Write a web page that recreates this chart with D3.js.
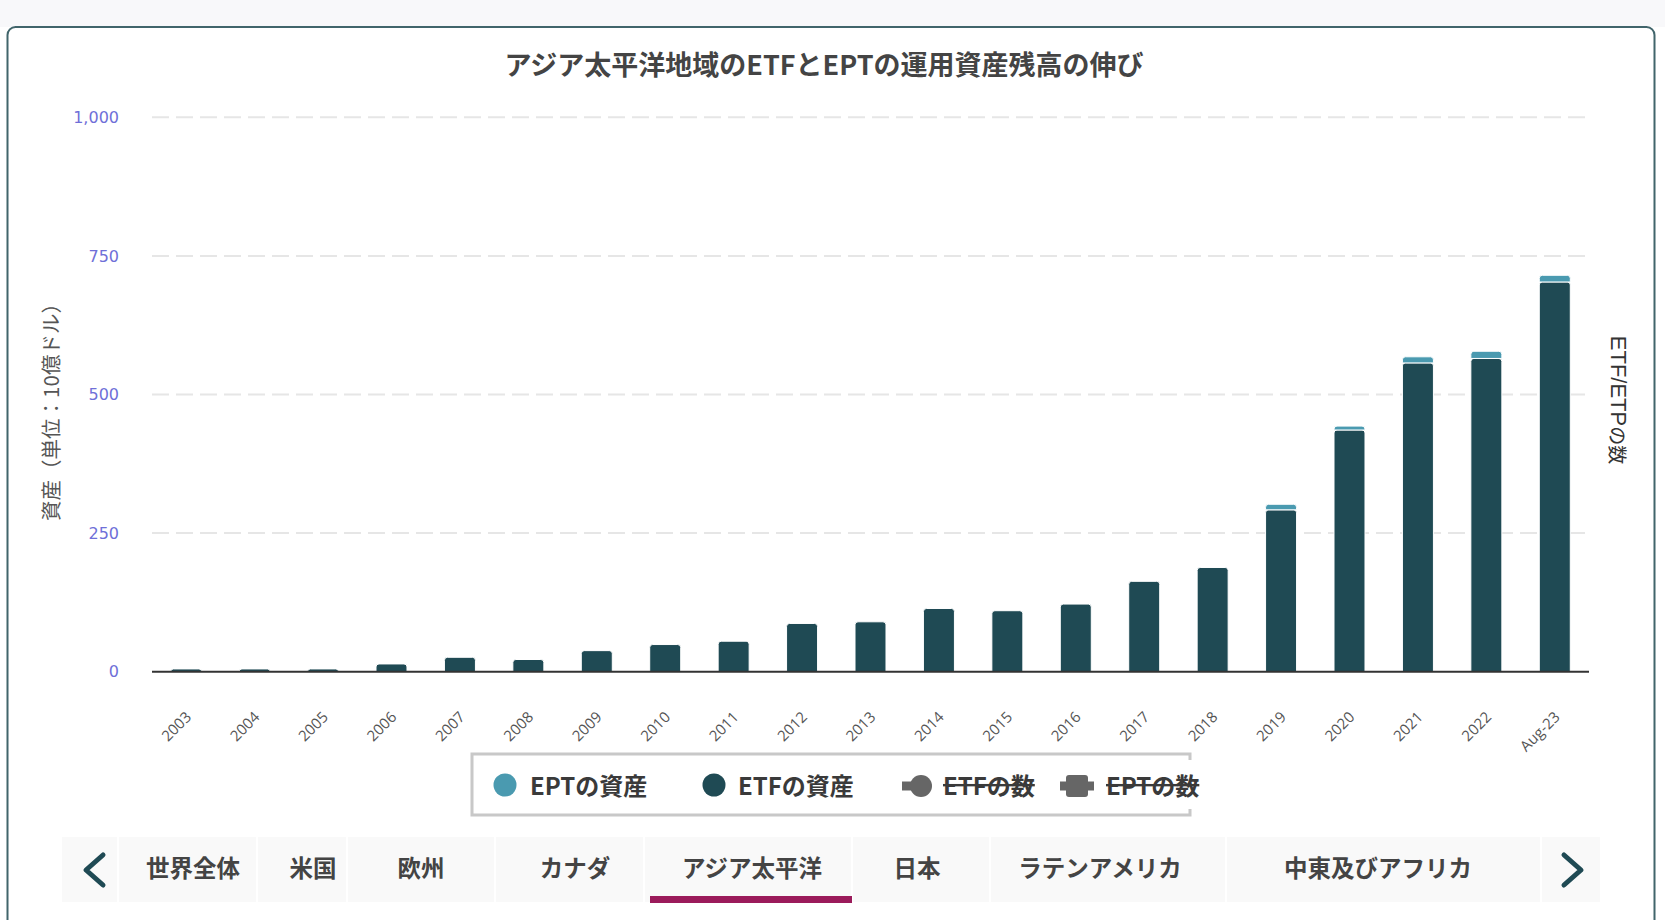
<!DOCTYPE html>
<html>
<head>
<meta charset="utf-8">
<script src="https://cdn.jsdelivr.net/npm/d3@7/dist/d3.min.js"></script>
<style>
  body { margin: 0; background: #fff; }
  svg { display: block; font-family: "Noto Sans CJK JP", "Noto Sans", sans-serif; }
</style>
</head>
<body>
<svg id="canvas" width="1665" height="920"></svg>
<script>
// data
let categories = ['2003', '2004', '2005', '2006', '2007', '2008', '2009', '2010', '2011', '2012',
                  '2013', '2014', '2015', '2016', '2017', '2018', '2019', '2020', '2021', '2022', 'Aug-23']
let etfAssets = [5, 5, 5, 14, 26, 22, 38, 49, 55, 87, 90, 114, 110, 122, 163, 188, 292, 436, 557, 565, 703]
let eptAssets = [0, 0, 0, 0, 0, 0, 0, 0, 0, 0, 0, 0, 0, 0, 0, 0, 10, 7, 11, 13, 12]
let yTicks = [0, 250, 500, 750, 1000]
let legendNames = ['EPTの資産', 'ETFの資産', 'ETFの数', 'EPTの数']
let tabNames = ['世界全体', '米国', '欧州', 'カナダ', 'アジア太平洋', '日本', 'ラテンアメリカ', '中東及びアフリカ']

let etfColor = '#1f4a54'
let eptColor = '#4a9ab0'

let svg = d3.select('#canvas')

// page frame
svg.append('rect').attr('x', 0).attr('y', 0).attr('width', 1665).attr('height', 27).attr('fill', '#f8f8fa')
svg.append('rect')
    .attr('x', 7.5).attr('y', 27).attr('width', 1647).attr('height', 930)
    .attr('rx', 8)
    .attr('fill', '#fff')
    .attr('stroke', '#41656b')
    .attr('stroke-width', 2)

svg.append('text')
    .attr('x', 824).attr('y', 63)
    .attr('text-anchor', 'middle')
    .attr('dominant-baseline', 'central')
    .attr('font-size', 27)
    .attr('font-weight', 'bold')
    .attr('fill', '#444')
    .text('アジア太平洋地域のETFとEPTの運用資産残高の伸び')

let left = 152
let right = 1589

let xScale = d3.scaleBand()
    .domain(categories)
    .range([left, right])
    .paddingInner(0.547)
    .paddingOuter(0.2735)

let yScale = d3.scaleLinear()
    .domain([0, 1000])
    .range([671.7, 117.3])

// grid
svg.append('g')
    .selectAll('line')
    .data(yTicks.filter((d) => d > 0))
    .enter()
    .append('line')
    .attr('x1', left).attr('x2', right)
    .attr('y1', (d) => yScale(d)).attr('y2', (d) => yScale(d))
    .attr('stroke', '#e6e6e6')
    .attr('stroke-width', 2)
    .attr('stroke-dasharray', '17,7')

let yAxis = d3.axisLeft(yScale)
    .tickValues(yTicks)
    .tickSize(0)
    .tickPadding(0)
    .tickFormat(d3.format(','))

let yAxisGroup = svg.append('g')
    .attr('transform', 'translate(119,0)')
    .call(yAxis)
yAxisGroup.select('.domain').remove()
yAxisGroup.selectAll('text')
    .attr('font-family', '"DejaVu Sans", sans-serif')
    .attr('font-size', 16)
    .attr('fill', '#6f6fd8')

svg.append('text')
    .attr('transform', 'translate(50,407) rotate(-90)')
    .attr('text-anchor', 'middle')
    .attr('dominant-baseline', 'central')
    .attr('font-size', 20.5)
    .attr('fill', '#555')
    .text('資産（単位：10億ドル）')

let rightTitle = svg.append('text')
    .attr('transform', 'translate(1619,400) rotate(90)')
    .attr('text-anchor', 'middle')
    .attr('dominant-baseline', 'central')
    .attr('fill', '#333')
rightTitle.append('tspan').attr('font-family', '"Liberation Sans", sans-serif').attr('font-size', 22).text('ETF/ETP')
rightTitle.append('tspan').attr('font-size', 19).text('の数')

// stacked bars
let rows = categories.map((c, i) => ({ category: c, etf: etfAssets[i], ept: eptAssets[i] }))
let stack = d3.stack().keys(['etf', 'ept'])(rows)
let colors = { etf: etfColor, ept: eptColor }

let topPath = (x, y, w, h, r) => {
    r = Math.min(r, h, w / 2)
    return 'M' + x + ',' + (y + h) +
        'V' + (y + r) +
        'Q' + x + ',' + y + ' ' + (x + r) + ',' + y +
        'H' + (x + w - r) +
        'Q' + (x + w) + ',' + y + ' ' + (x + w) + ',' + (y + r) +
        'V' + (y + h) + 'Z'
}

stack.forEach((layer) => {
    svg.append('g')
        .selectAll('path')
        .data(layer.filter((d) => d[1] - d[0] > 0))
        .enter()
        .append('path')
        .attr('d', (d) => {
            let x = xScale(d.data.category)
            let y = yScale(d[1])
            let h = yScale(d[0]) - yScale(d[1])
            return topPath(x, y, xScale.bandwidth(), h, 3)
        })
        .attr('fill', colors[layer.key])
        .attr('stroke', '#fff')
        .attr('stroke-width', 1)
})

// x axis line and labels
svg.append('line')
    .attr('x1', left).attr('x2', right)
    .attr('y1', 671.7).attr('y2', 671.7)
    .attr('stroke', '#333')
    .attr('stroke-width', 2)

svg.append('g')
    .selectAll('text')
    .data(categories)
    .enter()
    .append('text')
    .attr('transform', (d) => 'translate(' + (xScale(d) + xScale.bandwidth() / 2 + 6) + ',718) rotate(-45)')
    .attr('text-anchor', 'end')
    .attr('font-family', '"Open Sans", sans-serif')
    .attr('font-size', 15)
    .attr('fill', '#555')
    .text((d) => d)

// legend
let legend = svg.append('g')
legend.append('path')
    .attr('d', 'M1190,760 V754 H472 V815 H1190 V809')
    .attr('fill', '#fff')
    .attr('stroke', '#c8c8c8')
    .attr('stroke-width', 3)

let textX = [530, 738, 943, 1106]

legend.append('circle').attr('cx', 505).attr('cy', 785).attr('r', 11.5).attr('fill', eptColor)
legend.append('circle').attr('cx', 714).attr('cy', 785).attr('r', 11.5).attr('fill', etfColor)
legend.append('line').attr('x1', 902).attr('x2', 930).attr('y1', 786).attr('y2', 786)
    .attr('stroke', '#666').attr('stroke-width', 9)
legend.append('circle').attr('cx', 921).attr('cy', 786).attr('r', 11).attr('fill', '#666')
legend.append('line').attr('x1', 1060).attr('x2', 1094).attr('y1', 786).attr('y2', 786)
    .attr('stroke', '#666').attr('stroke-width', 9)
legend.append('rect').attr('x', 1066).attr('y', 775).attr('width', 22).attr('height', 22).attr('rx', 3).attr('fill', '#666')

legend.selectAll('text.item')
    .data(legendNames)
    .enter()
    .append('text')
    .attr('class', 'item')
    .attr('x', (d, i) => textX[i])
    .attr('y', 784)
    .attr('dominant-baseline', 'central')
    .attr('font-size', 24)
    .attr('font-weight', 'bold')
    .attr('fill', '#3a3a3a')
    .style('text-decoration', (d, i) => i > 1 ? 'line-through' : 'none')
    .text((d) => d)

// region tabs
let tabs = svg.append('g')
tabs.append('rect').attr('x', 62).attr('y', 837).attr('width', 1538).attr('height', 65).attr('fill', '#f9f9f9')
let seps = [118, 257, 347, 495, 644, 852, 990, 1226, 1541]
tabs.selectAll('line.sep')
    .data(seps)
    .enter()
    .append('line')
    .attr('class', 'sep')
    .attr('x1', (d) => d).attr('x2', (d) => d)
    .attr('y1', 837).attr('y2', 902)
    .attr('stroke', '#fff')
    .attr('stroke-width', 2)

let tabX = [193, 313, 421, 575, 752, 917, 1100, 1378]
tabs.selectAll('text')
    .data(tabNames)
    .enter()
    .append('text')
    .attr('x', (d, i) => tabX[i])
    .attr('y', 867)
    .attr('text-anchor', 'middle')
    .attr('dominant-baseline', 'central')
    .attr('font-size', 23.5)
    .attr('font-weight', 'bold')
    .attr('fill', '#444')
    .text((d) => d)

tabs.append('rect').attr('x', 650).attr('y', 896).attr('width', 202).attr('height', 7).attr('fill', '#9b1b5b')

tabs.append('polyline')
    .attr('points', '103,855 86,870 103,885')
    .attr('fill', 'none').attr('stroke', etfColor).attr('stroke-width', 5)
    .attr('stroke-linecap', 'round').attr('stroke-linejoin', 'round')
tabs.append('polyline')
    .attr('points', '1564,855 1581,870 1564,885')
    .attr('fill', 'none').attr('stroke', etfColor).attr('stroke-width', 5)
    .attr('stroke-linecap', 'round').attr('stroke-linejoin', 'round')
</script>
</body>
</html>
